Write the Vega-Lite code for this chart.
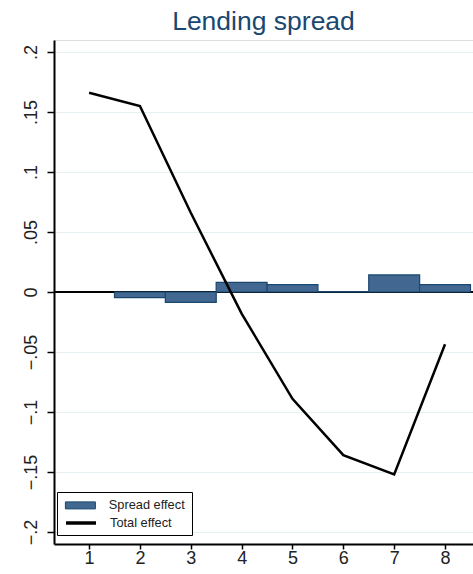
{
  "$schema": "https://vega.github.io/schema/vega-lite/v6.json",
  "autosize": "none",
  "width": 419,
  "height": 504,
  "padding": {"left": 54, "top": 40, "right": 0, "bottom": 30},
  "background": "white",
  "title": {"text": "Lending spread", "fontSize": 26.5, "font": "Liberation Sans", "fontWeight": "normal", "color": "#1a476f", "anchor": "middle", "offset": 5},
  "datasets": {
    "bars": [
      {"step": 2, "effect": -0.0047},
      {"step": 3, "effect": -0.0086},
      {"step": 4, "effect": 0.0081},
      {"step": 5, "effect": 0.0061},
      {"step": 6, "effect": 0.0003},
      {"step": 7, "effect": 0.0142},
      {"step": 8, "effect": 0.0061}
    ],
    "total": [
      {"step": 1, "effect": 0.166},
      {"step": 2, "effect": 0.155},
      {"step": 3, "effect": 0.066},
      {"step": 4, "effect": -0.018},
      {"step": 5, "effect": -0.089},
      {"step": 6, "effect": -0.136},
      {"step": 7, "effect": -0.152},
      {"step": 8, "effect": -0.0435}
    ]
  },
  "encoding": {
    "x": {"field": "step", "type": "quantitative", "scale": {"domain": [0.31, 8.55], "nice": false, "zero": false, "padding": 0},
      "axis": {"values": [1,2,3,4,5,6,7,8], "title": null, "grid": false, "domainWidth": 2, "domainColor": "black", "tickColor": "black", "tickWidth": 1.5, "tickSize": 5, "labelPadding": 0, "labelFontSize": 18, "labelFont": "Liberation Sans", "labelColor": "#222", "labelFlush": false}},
    "y": {"field": "effect", "type": "quantitative", "scale": {"domain": [-0.21, 0.21], "nice": false, "padding": 0},
      "axis": {"values": [-0.2,-0.15,-0.1,-0.05,0,0.05,0.1,0.15,0.2], "title": null, "grid": true, "gridColor": "#e6eff1", "gridWidth": 1, "domainWidth": 2, "domainColor": "black", "tickColor": "black", "tickWidth": 1.5, "tickSize": 7, "labelPadding": 7, "labelAngle": -90, "labelAlign": "center", "labelBaseline": "bottom", "labelFontSize": 18, "labelFont": "Liberation Sans", "labelColor": "#222", "labelFlush": false,
        "labelExpr": "replace(format(datum.value, '.2~f'), '0.', '.')"}}
  },
  "layer": [
    {
      "data": {"name": "total"},
      "mark": {"type": "rule", "color": "black", "strokeWidth": 1},
      "encoding": {"y": {"datum": 0, "type": "quantitative"}, "x": null}
    },
    {
      "data": {"name": "bars"},
      "mark": {"type": "bar", "width": 50.9, "stroke": "#1a476f", "strokeWidth": 1.2, "opacity": 1},
      "encoding": {
        "color": {"datum": "Spread effect", "type": "nominal", "scale": {"domain": ["Spread effect"], "range": ["#426891"]},
          "legend": {"orient": "none", "legendX": 3, "legendY": 452, "title": "\u00a0", "titleOrient": "bottom", "titleFontSize": 12, "titlePadding": 5, "padding": 7, "strokeColor": "black", "fillColor": "white",
            "labelFontSize": 12.8, "labelFont": "Liberation Sans", "labelColor": "#222", "symbolSize": 100, "symbolOffset": 10, "labelOffset": 22,
            "symbolType": "M-3,-0.7H3V0.7H-3Z", "symbolStrokeWidth": 1, "symbolStrokeColor": "#1a476f", "symbolFillColor": "#426891", "symbolOpacity": 1}}
      }
    },
    {
      "data": {"name": "total"},
      "mark": {"type": "line", "strokeWidth": 2.5},
      "encoding": {"stroke": {"datum": "Total effect", "type": "nominal", "scale": {"domain": ["Total effect"], "range": ["black"]},
          "legend": {"orient": "none", "legendX": 3, "legendY": 469, "title": null, "padding": 7, "strokeColor": null, "fillColor": null,
            "labelFontSize": 12.8, "labelFont": "Liberation Sans", "labelColor": "#222", "symbolSize": 100, "symbolOffset": 10, "labelOffset": 22,
            "symbolType": "M-3,0H3", "symbolStrokeWidth": 3.5, "symbolStrokeColor": "black", "symbolOpacity": 1}}}
    }
  ]
}
